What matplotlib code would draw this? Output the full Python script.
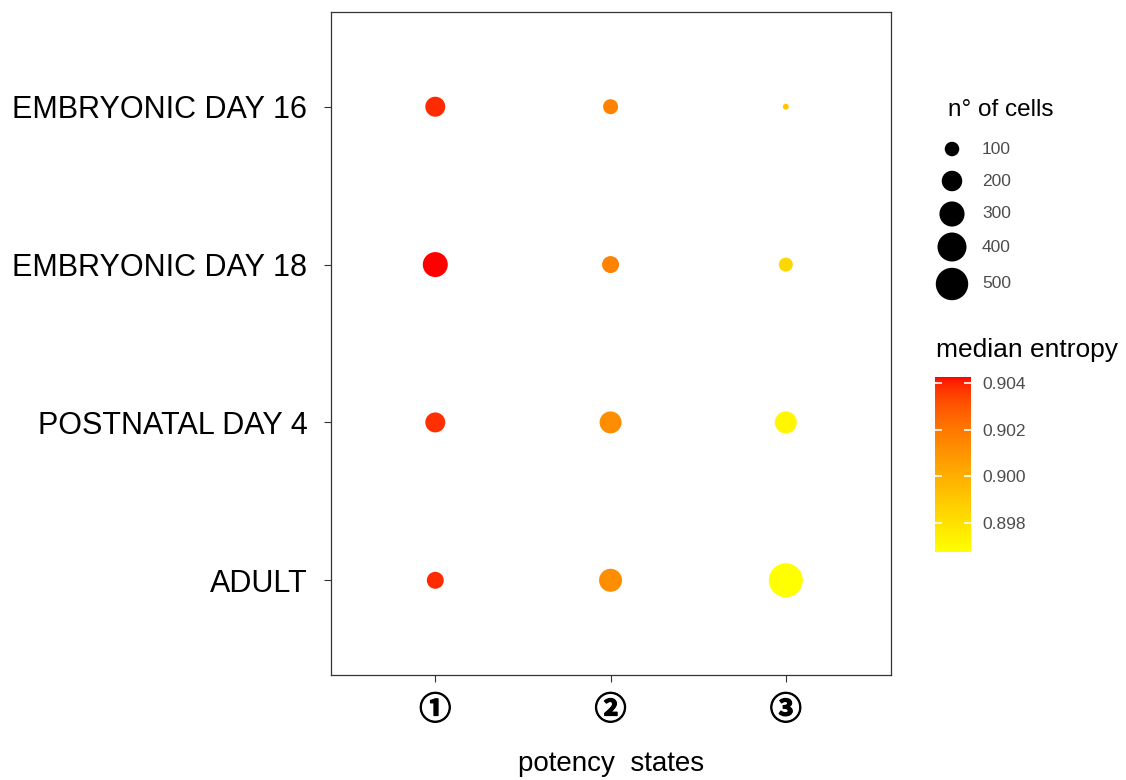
import numpy as np
import matplotlib
matplotlib.use("Agg")
import matplotlib.pyplot as plt
import matplotlib.patheffects as pe
from matplotlib.colors import ListedColormap, Normalize

plt.rcParams["font.family"] = ["Liberation Sans", "DejaVu Sans"]

# developmental stages (bottom to top) and potency states
stages = ["ADULT", "POSTNATAL DAY 4", "EMBRYONIC DAY 18", "EMBRYONIC DAY 16"]
states = ["\u2460", "\u2461", "\u2462"]

# number of cells per stage, one value per potency state
n_adult = [137, 252, 550]
n_p4 = [190, 230, 230]
n_e18 = [297, 137, 93]
n_e16 = [190, 107, 17]

# median signalling entropy per stage
ent_adult = [0.90389, 0.90126, 0.89676]
ent_p4 = [0.90381, 0.90126, 0.89714]
ent_e18 = [0.90426, 0.90164, 0.89841]
ent_e16 = [0.90389, 0.90164, 0.89901]

size_breaks = [100, 200, 300, 400, 500]
entropy_ticks = [0.898, 0.900, 0.902, 0.904]

GREY30 = "#4D4D4D"


def point_area(n):
    # marker area grows linearly with the cell count
    return 1.09 * np.asarray(n, dtype=float)


_M = np.array([[0.4124, 0.3576, 0.1805],
               [0.2126, 0.7152, 0.0722],
               [0.0193, 0.1192, 0.9505]])
_WHITE = np.array([0.95047, 1.0, 1.08883])
_D = 6 / 29


def srgb_to_lab(rgb):
    c = np.asarray(rgb, dtype=float)
    lin = np.where(c <= 0.04045, c / 12.92, ((c + 0.055) / 1.055) ** 2.4)
    xyz = _M @ lin / _WHITE
    f = np.where(xyz > _D ** 3, np.cbrt(xyz), xyz / (3 * _D ** 2) + 4 / 29)
    return np.array([116 * f[1] - 16, 500 * (f[0] - f[1]), 200 * (f[1] - f[2])])


def lab_to_srgb(lab):
    L, a, b = lab
    fy = (L + 16) / 116
    f = np.array([fy + a / 500, fy, fy - b / 200])
    xyz = np.where(f > _D, f ** 3, 3 * _D ** 2 * (f - 4 / 29)) * _WHITE
    lin = np.clip(np.linalg.solve(_M, xyz), 0, 1)
    return np.where(lin <= 0.0031308, 12.92 * lin, 1.055 * lin ** (1 / 2.4) - 0.055)


def lab_gradient(low, high, n=256):
    lo, hi = srgb_to_lab(low), srgb_to_lab(high)
    cols = [np.clip(lab_to_srgb(lo + (hi - lo) * t), 0, 1) for t in np.linspace(0, 1, n)]
    return ListedColormap(cols)


cmap = lab_gradient((1, 1, 0), (1, 0, 0))

counts = np.array([n_adult, n_p4, n_e18, n_e16], dtype=float)
entropy = np.array([ent_adult, ent_p4, ent_e18, ent_e16])
xx, yy = np.meshgrid(np.arange(1, len(states) + 1), np.arange(1, len(stages) + 1))
norm = Normalize(vmin=entropy.min(), vmax=entropy.max())

fig = plt.figure(figsize=(11.26, 7.8), dpi=100)
ax = fig.add_axes([331 / 1126, 105 / 780, 560 / 1126, 663 / 780])

sc = ax.scatter(xx.ravel(), yy.ravel(), s=point_area(counts.ravel()),
                c=entropy.ravel(), cmap=cmap, norm=norm, linewidths=0, zorder=3)

ax.set_xlim(0.405, 3.6)
ax.set_ylim(0.4, 4.6)
ax.set_xticks(np.arange(1, len(states) + 1))
ax.set_xticklabels(states, fontsize=23, fontweight="bold",
                   family=["Noto Sans CJK JP", "DejaVu Sans"])
for lbl in ax.get_xticklabels():
    lbl.set_path_effects([pe.withStroke(linewidth=0.8, foreground="black")])
ax.set_yticks(np.arange(1, len(stages) + 1))
ax.set_yticklabels(stages, fontsize=22)
ax.tick_params(axis="both", length=5, width=0.8, color="#333333")
ax.tick_params(axis="y", pad=12)
ax.tick_params(axis="x", pad=9)
for sp in ax.spines.values():
    sp.set_color("#333333")
    sp.set_linewidth(0.9)
ax.set_xlabel("potency  states", fontsize=20, labelpad=18)

# colour bar for the median entropy
cax = fig.add_axes([935 / 1126, (780 - 552) / 780, 36 / 1126, 175 / 780])
cb = fig.colorbar(sc, cax=cax, ticks=entropy_ticks)
cb.outline.set_visible(False)
cb.ax.set_yticklabels([f"{t:.3f}" for t in entropy_ticks])
cax.tick_params(length=0, pad=8, labelsize=12.5, labelcolor=GREY30)
cax.hlines(entropy_ticks, 0, 0.2, color="white", lw=1.2)
cax.hlines(entropy_ticks, 0.8, 1, color="white", lw=1.2)
fig.text(936 / 1126, 1 - 350 / 780, "median entropy", fontsize=19, va="center", ha="left")

# size legend drawn on a pixel-scaled overlay
lax = fig.add_axes([0, 0, 1, 1])
lax.set_xlim(0, 1126)
lax.set_ylim(780, 0)
lax.axis("off")
key_y = [149, 181, 214, 247, 284]
lax.scatter([952] * len(size_breaks), key_y, s=point_area(size_breaks),
            color="black", linewidths=0)
for y, b in zip(key_y, size_breaks):
    lax.text(982, y, str(b), fontsize=12.5, color=GREY30, va="center", ha="left")
lax.text(948, 110, "n\u00b0 of cells", fontsize=17.5, va="center", ha="left")

fig.savefig("out.png", dpi=100)
